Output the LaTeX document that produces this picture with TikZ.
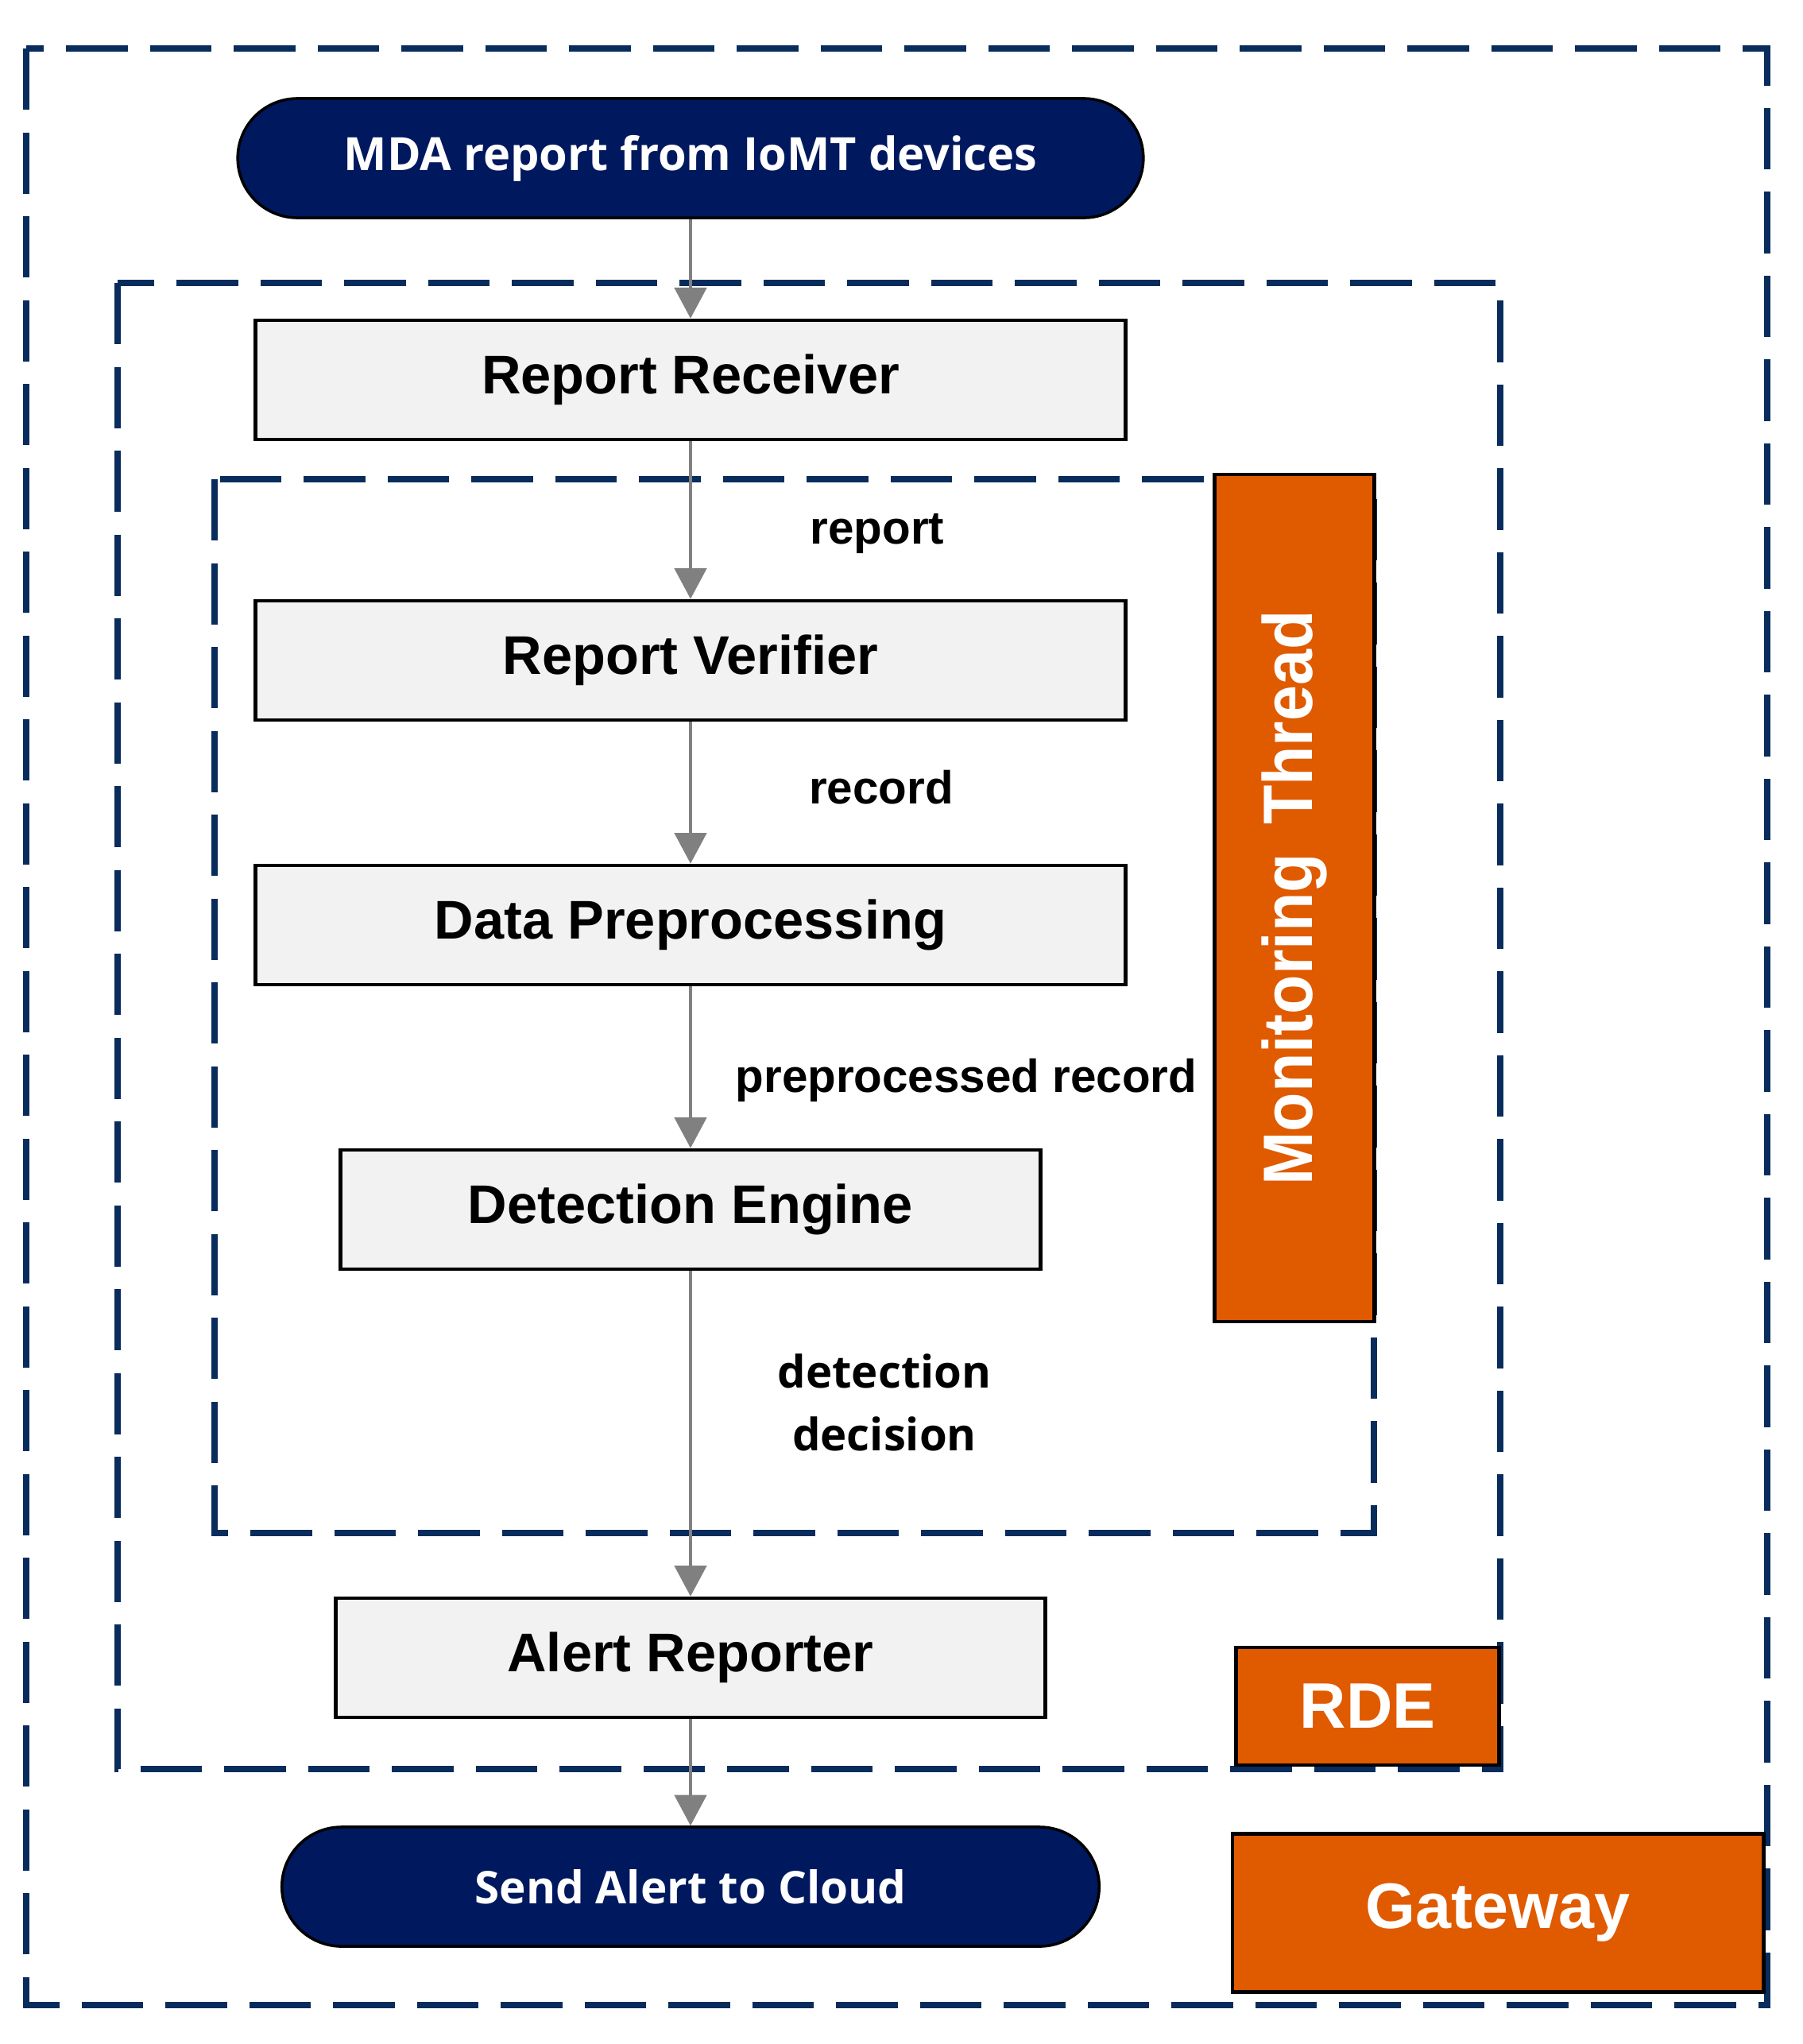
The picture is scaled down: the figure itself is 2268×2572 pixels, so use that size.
\documentclass[tikz,border=0pt]{standalone}
\usepackage{fontspec}
\setmainfont{Liberation Sans}
\newfontfamily\osans{Open Sans}
\usetikzlibrary{arrows.meta}
\definecolor{navyfill}{RGB}{0,24,94}
\definecolor{dashblue}{RGB}{8,44,92}
\definecolor{orangebox}{RGB}{224,90,0}
\definecolor{boxgray}{RGB}{242,242,242}
\definecolor{arrowgray}{RGB}{128,128,128}
\begin{document}
\begin{tikzpicture}[x=0.01cm,y=-0.01cm,
  dashbox/.style={draw=dashblue, line width=2.3pt, dash pattern=on 22pt off 8pt},
  procbox/.style={draw=black, fill=boxgray, line width=1.3pt, minimum height=1.5cm, inner sep=0pt,
    font=\fontsize{19.5}{23}\selectfont\bfseries},
  terminal/.style={draw=black, fill=navyfill, line width=1pt, rounded corners=0.75cm,
    minimum height=1.5cm, inner sep=0pt, text=white},
  tagbox/.style={draw=black, fill=orangebox, line width=1.3pt, inner sep=0pt, text=white,
    font=\fontsize{23}{27}\selectfont\bfseries},
  flow/.style={draw=arrowgray, line width=1pt, -{Triangle[length=11pt,width=11.5pt]}},
  lbl/.style={inner sep=0pt, font=\fontsize{16.6}{20}\selectfont\bfseries},
  lblo/.style={inner sep=0pt, align=center, font=\osans\fontsize{16}{22.5}\selectfont\bfseries}
]
\useasboundingbox (0,0) rectangle (2268,2572);
% dashed containers
\draw[dashbox] (33,61) rectangle (2224,2523);
\draw[dashbox] (148,356) rectangle (1888,2226);
\draw[dashbox] (270,603) rectangle (1729,1929);
% terminals
\node[terminal, minimum width=11.39cm, font=\osans\fontsize{16.4}{20}\selectfont\bfseries] (mda) at (869,199) {MDA report from IoMT devices};
\node[terminal, minimum width=10.28cm, font=\osans\fontsize{16.1}{20}\selectfont\bfseries] (cloud) at (869,2374) {Send Alert to Cloud};
% process boxes
\node[procbox, minimum width=10.94cm] (rr) at (869,478) {Report Receiver};
\node[procbox, minimum width=10.94cm] (rv) at (869,831) {Report Verifier};
\node[procbox, minimum width=10.94cm] (dp) at (869,1164) {Data Preprocessing};
\node[procbox, minimum width=8.81cm] (de) at (869,1522) {Detection Engine};
\node[procbox, minimum width=8.92cm] (ar) at (869,2086) {Alert Reporter};
% orange tags
\node[tagbox, minimum width=2.01cm, minimum height=10.65cm] (mt) at (1629,1130)
  {\rotatebox{90}{\fontsize{25}{29}\selectfont\scalebox{0.92}[1]{Monitoring\, Thread}}};
\node[tagbox, minimum width=3.31cm, minimum height=1.48cm] (rde) at (1721,2147) {RDE};
\node[tagbox, minimum width=6.68cm, minimum height=1.99cm] (gw) at (1885,2407) {Gateway};
% flow arrows
\draw[flow] (mda.south) -- (rr.north);
\draw[flow] (rr.south) -- (rv.north);
\draw[flow] (rv.south) -- (dp.north);
\draw[flow] (dp.south) -- (de.north);
\draw[flow] (de.south) -- (ar.north);
\draw[flow] (ar.south) -- (cloud.north);
% edge labels
\node[lbl] (lreport) at (1104,672) {report};
\node[lbl] (lrecord) at (1109,991) {record};
\node[lbl] (lprep) at (1216,1359) {preprocessed record};
\node[lblo] (ldec) at (1113,1765) {detection\\decision};
\end{tikzpicture}
\end{document}
